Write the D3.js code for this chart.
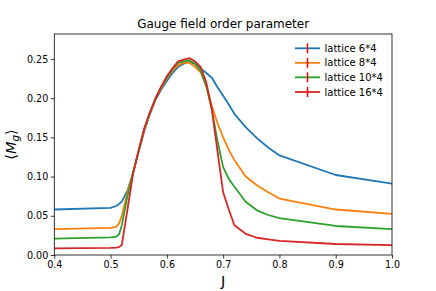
<!DOCTYPE html>
<html><head><meta charset="utf-8">
<script src="https://cdn.jsdelivr.net/npm/d3@7"></script>
<style>body{margin:0;background:#fff}svg{display:block}text{font-family:"DejaVu Sans",sans-serif;fill:#000}</style>
</head><body>
<script>
const J = [0.40,0.50,0.51,0.515,0.52,0.53,0.54,0.55,0.56,0.57,0.58,0.59,0.60,0.61,0.62,0.63,0.64,0.65,0.66,0.67,0.68,0.69,0.70,0.71,0.72,0.74,0.76,0.78,0.80,0.90,1.00];
const lattice6  = [0.058,0.060,0.0625,0.065,0.068,0.082,0.105,0.132,0.158,0.180,0.198,0.211,0.222,0.232,0.240,0.244,0.246,0.244,0.238,0.232,0.226,0.214,0.203,0.192,0.180,0.163,0.149,0.137,0.127,0.102,0.091];
const lattice8  = [0.033,0.0345,0.036,0.040,0.050,0.080,0.105,0.133,0.160,0.181,0.199,0.213,0.225,0.235,0.242,0.245,0.245,0.240,0.233,0.216,0.190,0.168,0.150,0.134,0.121,0.100,0.089,0.080,0.072,0.058,0.0525];
const lattice10 = [0.021,0.0225,0.0235,0.026,0.038,0.075,0.105,0.133,0.161,0.182,0.200,0.214,0.226,0.237,0.245,0.247,0.248,0.244,0.235,0.215,0.185,0.145,0.112,0.097,0.087,0.068,0.057,0.051,0.047,0.037,0.033];
const lattice16 = [0.0085,0.009,0.0093,0.010,0.013,0.058,0.104,0.134,0.162,0.182,0.200,0.215,0.228,0.238,0.247,0.249,0.251,0.247,0.240,0.220,0.185,0.132,0.080,0.058,0.038,0.027,0.022,0.020,0.018,0.014,0.0125];
const seriesNames = ["lattice 6*4","lattice 8*4","lattice 10*4","lattice 16*4"];
const xTicks = [0.4,0.5,0.6,0.7,0.8,0.9,1.0];
const yTicks = [0.00,0.05,0.10,0.15,0.20,0.25];

const W=436,H=291;
const m={l:54.3,r:392,t:34,b:255};
const colors=["#1f77b4","#ff7f0e","#2ca02c","#d62728"];
const svg=d3.select("body").append("svg").attr("width",W).attr("height",H);
const x=d3.scaleLinear().domain([0.4,1.0]).range([m.l,m.r]);
const y=d3.scaleLinear().domain([0,0.2818]).range([m.b,m.t]);

const all=[lattice6,lattice8,lattice10,lattice16];
const line=d3.line().x((d,i)=>x(J[i])).y(d=>y(d));
const g=svg.append("g");
g.append("clipPath").attr("id","c").append("rect").attr("x",m.l).attr("y",m.t).attr("width",m.r-m.l).attr("height",m.b-m.t);
all.forEach((s,k)=>{
  g.append("path").datum(s).attr("d",line).attr("fill","none").attr("stroke",colors[k]).attr("stroke-width",1.8).attr("stroke-linejoin","round").attr("clip-path","url(#c)");
});

const xa=svg.append("g").attr("transform",`translate(0,${m.b})`).call(d3.axisBottom(x).tickValues(xTicks).tickFormat(d3.format(".1f")).tickSize(3.5).tickPadding(2.5));
const ya=svg.append("g").attr("transform",`translate(${m.l},0)`).call(d3.axisLeft(y).tickValues(yTicks).tickFormat(d3.format(".2f")).tickSize(3.5).tickPadding(2.5));
[xa,ya].forEach(a=>{a.select(".domain").remove();a.selectAll("line").attr("stroke","#000").attr("stroke-width",0.8);a.selectAll("text").attr("font-size",9.6).attr("font-family","DejaVu Sans").attr("fill","#000");});
svg.append("rect").attr("x",m.l).attr("y",m.t).attr("width",m.r-m.l).attr("height",m.b-m.t).attr("fill","none").attr("stroke","#000").attr("stroke-width",0.8);

svg.append("text").attr("x",(m.l+m.r)/2).attr("y",28).attr("text-anchor","middle").attr("font-size",12).text("Gauge field order parameter");
svg.append("text").attr("x",(m.l+m.r)/2).attr("y",286).attr("text-anchor","middle").attr("font-size",14.5).text("J");
const yl=svg.append("text").attr("transform",`translate(16,${(m.t+m.b)/2}) rotate(-90)`).attr("text-anchor","middle").attr("font-size",14.5);
yl.append("tspan").text("⟨");
yl.append("tspan").attr("font-style","italic").text("M");
yl.append("tspan").attr("font-style","italic").attr("font-size",10.5).attr("dy",3).text("g");
yl.append("tspan").attr("dy",-3).text("⟩");

const ly=[48.3,62.8,77.3,92];
seriesNames.forEach((n,k)=>{
  const lg=svg.append("g");
  lg.append("line").attr("x1",295).attr("x2",320).attr("y1",ly[k]).attr("y2",ly[k]).attr("stroke",colors[k]).attr("stroke-width",1.8);
  lg.append("line").attr("x1",307.5).attr("x2",307.5).attr("y1",ly[k]-5).attr("y2",ly[k]+5).attr("stroke","#ff0000").attr("stroke-width",1.5);
  lg.append("text").attr("x",324.5).attr("y",ly[k]+3.6).attr("font-size",10).text(n);
});
</script>
</body></html>
